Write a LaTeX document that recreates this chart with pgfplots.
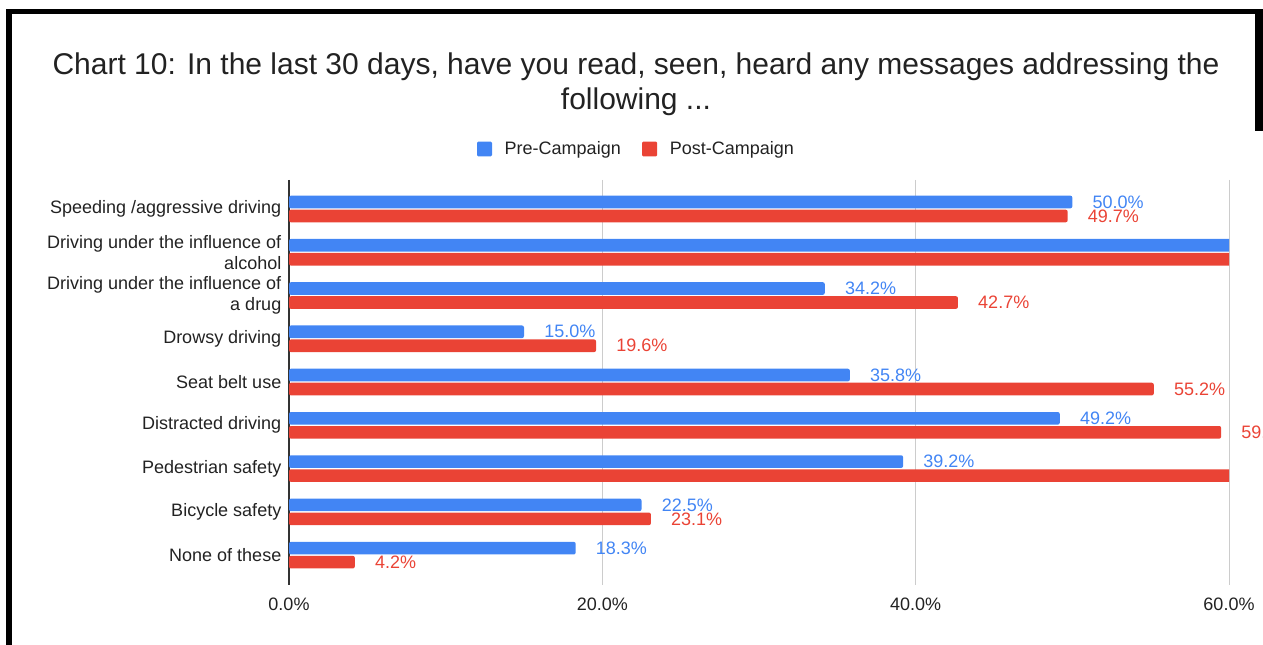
\documentclass[border=0pt]{standalone}
\usepackage{fontspec}
\setmainfont{Liberation Sans}
\usepackage{pgfplots}
\pgfplotsset{compat=1.18}
\definecolor{gblue}{HTML}{4285F4}
\definecolor{gred}{HTML}{EA4335}
\definecolor{txt}{HTML}{222222}
\definecolor{gridc}{HTML}{CCCCCC}
\definecolor{axc}{HTML}{333333}
\newcommand{\lblfont}{\fontsize{13.5}{15.75}\selectfont}
\begin{document}
\begin{tikzpicture}
\path[use as bounding box] (0,0) rectangle (947.25pt,-483.75pt);
\clip (0,0) rectangle (947.25pt,-483.75pt);
% frame
\fill[black] (4.5pt,-6.5pt) rectangle (947.25pt,-10.5pt);
\fill[black] (4.5pt,-6.5pt) rectangle (9pt,-483.75pt);
\fill[black] (941.25pt,-6.5pt) rectangle (947.25pt,-98pt);
% title
\node[font=\fontsize{22.5}{26.5}\selectfont, align=center, text=txt] at (477pt,-63pt)
 {Chart 10: In the last 30 days, have you read, seen, heard any messages addressing the\\following ...};
\begin{axis}[
  at={(216.75pt,-438.75pt)}, anchor=south west,
  width=705pt, height=303.75pt, scale only axis,
  xbar, bar width=9.5pt,
  xmin=0, xmax=60, ymin=-0.67, ymax=8.69, y dir=reverse,
  axis line style={draw=none},
  xtick={20,40,60}, extra x ticks={0},
  extra x tick style={grid style={axc, line width=0.9pt}},
  xmajorgrids, grid style={gridc, line width=0.75pt},
  major tick length=0pt,
  /pgf/number format/assume math mode=true,
  xticklabel={\pgfmathprintnumber[fixed,fixed zerofill,precision=1]{\tick}\%},
  xticklabel style={font=\lblfont, text=txt, yshift=-6.5pt},
  ytick={0,...,8},
  yticklabels={Speeding /aggressive driving,{Driving under the influence of\\alcohol},{Driving under the influence of\\a drug},Drowsy driving,Seat belt use,Distracted driving,Pedestrian safety,Bicycle safety,None of these},
  yticklabel style={font=\lblfont, text=txt, align=right, xshift=-2.25pt},
  point meta=x,
  nodes near coords={\pgfmathprintnumber[fixed,fixed zerofill,precision=1]{\pgfplotspointmeta}\%},
  nodes near coords style={font=\lblfont, anchor=west, inner sep=0pt, xshift=15pt},
  legend style={at={(0.37,1)}, anchor=center, yshift=23.25pt, draw=none, fill=none, font=\lblfont, text=txt,
    legend columns=2, /tikz/every even column/.append style={column sep=14pt}},
  legend image code/.code={\fill[#1, draw=none, rounded corners=1pt] (0pt,-5.6pt) rectangle (11.25pt,5.6pt);},
]
\addplot[fill=gblue, draw=none, bar shift=5.25pt, rounded corners=1.5pt, every node near coord/.append style={text=gblue}]
 coordinates {(50.0,0) (62.5,1) (34.2,2) (15.0,3) (35.8,4) (49.2,5) (39.2,6) (22.5,7) (18.3,8)};
\addlegendentry{\hspace{7.5pt}Pre-Campaign}
\addplot[fill=gred, draw=none, bar shift=-5.25pt, rounded corners=1.5pt, every node near coord/.append style={text=gred}]
 coordinates {(49.7,0) (65.0,1) (42.7,2) (19.6,3) (55.2,4) (59.5,5) (63.0,6) (23.1,7) (4.2,8)};
\addlegendentry{\hspace{7.5pt}Post-Campaign}
\end{axis}
\end{tikzpicture}
\end{document}
